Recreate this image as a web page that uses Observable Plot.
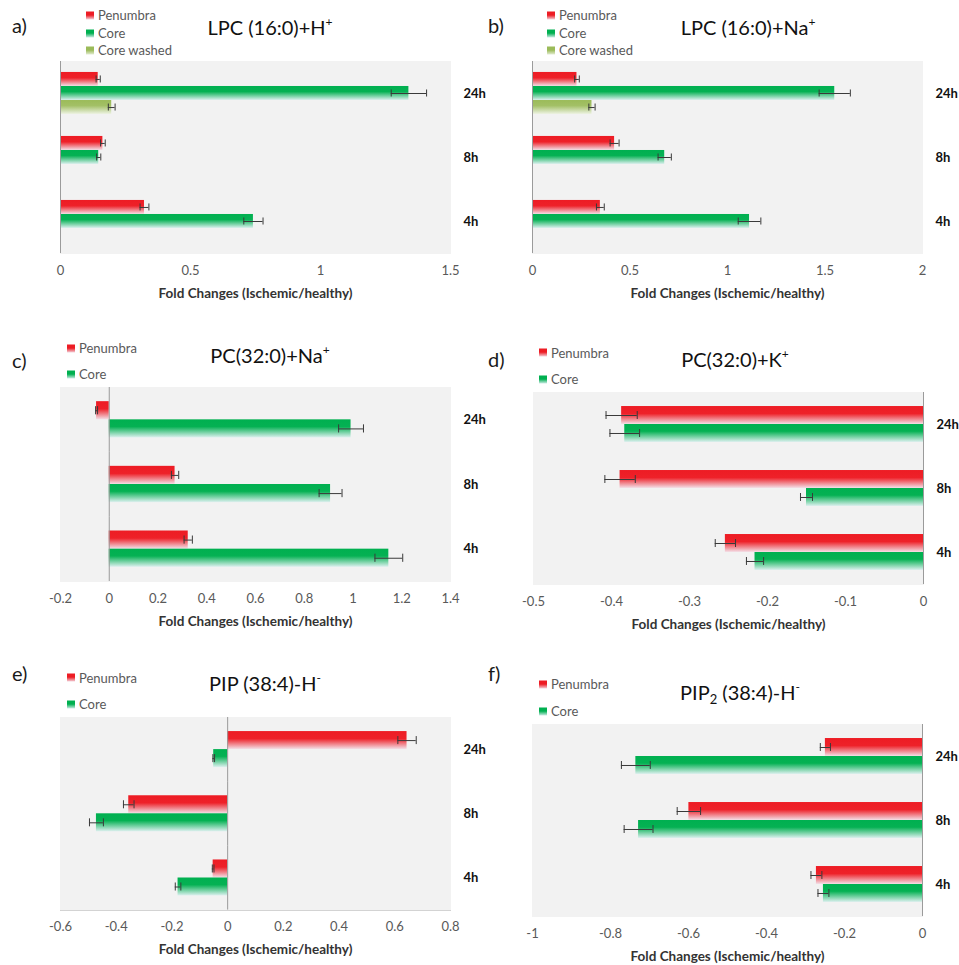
<!DOCTYPE html>
<html>
<head>
<meta charset="utf-8">
<script src="https://cdn.jsdelivr.net/npm/d3@7"></script>
<script src="https://cdn.jsdelivr.net/npm/@observablehq/plot@0.6"></script>
<style>
  body { margin: 0; background: #fff; font-family: Lato, "Open Sans", sans-serif; }
  #fig { position: relative; width: 959px; height: 965px; overflow: hidden; background: #fff; }
  .abs { position: absolute; line-height: 1; white-space: nowrap; }
  .letter { font-size: 20px; color: #1a1a1a; transform: translateY(-50%); }
  .title { font-size: 20px; color: #111; transform: translate(-50%, -50%); }
  .title sup { font-size: 0.6em; vertical-align: 0.75em; line-height: 0; }
  .title sub { font-size: 0.65em; vertical-align: -0.3em; line-height: 0; }
  .leg { font-size: 13px; color: #595959; display: flex; align-items: center; transform: translateY(-50%); }
  .sw { width: 8px; height: 8px; margin-right: 4px; flex: none; }
  .plotwrap { position: absolute; }
  .plotwrap svg { overflow: visible; }
  .plotwrap text.cat { font-weight: 700; fill: #111; font-size: 13px; }
  .plotwrap text.xlab { font-weight: 700; fill: #333; font-size: 13.5px; }
  .plotwrap path.domain { stroke: #a6a6a6; }
</style>
</head>
<body>
<svg width="0" height="0" style="position:absolute">
  <defs>
    <linearGradient id="gPenumbra" x1="0" y1="0" x2="0" y2="1">
      <stop offset="0" stop-color="#ed1c24"/>
      <stop offset="0.42" stop-color="#ee2129"/>
      <stop offset="1" stop-color="#f3e0e8"/>
    </linearGradient>
    <linearGradient id="gCore" x1="0" y1="0" x2="0" y2="1">
      <stop offset="0" stop-color="#00b050"/>
      <stop offset="0.40" stop-color="#05b153"/>
      <stop offset="1" stop-color="#ddf0ef"/>
    </linearGradient>
    <linearGradient id="gWashed" x1="0" y1="0" x2="0" y2="1">
      <stop offset="0" stop-color="#9bbb59"/>
      <stop offset="0.40" stop-color="#a3c066"/>
      <stop offset="1" stop-color="#eef3e4"/>
    </linearGradient>
  </defs>
</svg>
<div id="fig"></div>
<script>
// ---------------- DATA ----------------
const times = ["24h", "8h", "4h"];
const seriesNames = ["Penumbra", "Core", "Core washed"];
const xLabel = "Fold Changes (Ischemic/healthy)";

// a) LPC (16:0)+H+   values ordered as times (24h, 8h, 4h); null = no bar
const aPenumbra    = [0.145, 0.163, 0.323];
const aPenumbraErr = [0.008, 0.009, 0.017];
const aCore        = [1.340, 0.147, 0.742];
const aCoreErr     = [0.068, 0.008, 0.037];
const aWashed      = [0.197, null, null];
const aWashedErr   = [0.013, null, null];
const aTicks       = [0, 0.5, 1, 1.5];

// b) LPC (16:0)+Na+
const bPenumbra    = [0.228, 0.421, 0.348];
const bPenumbraErr = [0.012, 0.023, 0.020];
const bCore        = [1.550, 0.678, 1.113];
const bCoreErr     = [0.080, 0.034, 0.058];
const bWashed      = [0.305, null, null];
const bWashedErr   = [0.016, null, null];
const bTicks       = [0, 0.5, 1, 1.5, 2];

// c) PC(32:0)+Na+
const cPenumbra    = [-0.052, 0.270, 0.324];
const cPenumbraErr = [0.004, 0.015, 0.017];
const cCore        = [0.992, 0.908, 1.147];
const cCoreErr     = [0.051, 0.047, 0.057];
const cTicks       = [-0.2, 0, 0.2, 0.4, 0.6, 0.8, 1, 1.2, 1.4];

// d) PC(32:0)+K+
const dPenumbra    = [-0.387, -0.389, -0.254];
const dPenumbraErr = [0.020, 0.0195, 0.013];
const dCore        = [-0.383, -0.150, -0.216];
const dCoreErr     = [0.019, 0.0077, 0.011];
const dTicks       = [-0.5, -0.4, -0.3, -0.2, -0.1, 0];

// e) PIP (38:4)-H-
const ePenumbra    = [0.644, -0.355, -0.052];
const ePenumbraErr = [0.033, 0.019, 0.003];
const eCore        = [-0.050, -0.471, -0.178];
const eCoreErr     = [0.003, 0.025, 0.010];
const eTicks       = [-0.6, -0.4, -0.2, 0, 0.2, 0.4, 0.6, 0.8];

// f) PIP2 (38:4)-H-
const fPenumbra    = [-0.249, -0.599, -0.272];
const fPenumbraErr = [0.013, 0.030, 0.014];
const fCore        = [-0.735, -0.728, -0.254];
const fCoreErr     = [0.037, 0.037, 0.014];
const fTicks       = [-1, -0.8, -0.6, -0.4, -0.2, 0];

// ---------------- STYLE / LAYOUT ----------------
const fills = {"Penumbra": "url(#gPenumbra)", "Core": "url(#gCore)", "Core washed": "url(#gWashed)"};
const swatches = {
  "Penumbra": "linear-gradient(#ed1c24 45%, #f3d3dc)",
  "Core": "linear-gradient(#00b050 45%, #cdebe6)",
  "Core washed": "linear-gradient(#9bbb59 45%, #e3ecd2)"
};

function buildRows(list) {
  const rows = [];
  for (const [name, vals, errs] of list) {
    vals.forEach((v, i) => {
      if (v != null) rows.push({time: times[i], series: name, value: v, err: errs[i]});
    });
  }
  return rows;
}

const panels = [
  {letter: "a)", title: "LPC (16:0)+H<sup>+</sup>",
   series: [["Penumbra", aPenumbra, aPenumbraErr], ["Core", aCore, aCoreErr], ["Core washed", aWashed, aWashedErr]],
   ticks: aTicks, domain: [0, 1.5],
   L: {svgLeft: 0, plotTop: 61, plotH: 192, titleX: 270, titleY: 27, letterX: 12, letterY: 25, legX: 86, legYs: [15, 33, 50]}},
  {letter: "b)", title: "LPC (16:0)+Na<sup>+</sup>",
   series: [["Penumbra", bPenumbra, bPenumbraErr], ["Core", bCore, bCoreErr], ["Core washed", bWashed, bWashedErr]],
   ticks: bTicks, domain: [0, 2],
   L: {svgLeft: 472, plotTop: 61, plotH: 192, titleX: 748, titleY: 27, letterX: 488, letterY: 25, legX: 547, legYs: [15, 33, 50]}},
  {letter: "c)", title: "PC(32:0)+Na<sup>+</sup>",
   series: [["Penumbra", cPenumbra, cPenumbraErr], ["Core", cCore, cCoreErr]],
   ticks: cTicks, domain: [-0.2, 1.4],
   L: {svgLeft: 0, plotTop: 387, plotH: 194, titleX: 270, titleY: 355, letterX: 12, letterY: 360, legX: 67, legYs: [348, 374]}},
  {letter: "d)", title: "PC(32:0)+K<sup>+</sup>",
   series: [["Penumbra", dPenumbra, dPenumbraErr], ["Core", dCore, dCoreErr]],
   ticks: dTicks, domain: [-0.5, 0],
   L: {svgLeft: 472.5, plotTop: 391.5, plotH: 192, titleX: 735, titleY: 359, letterX: 488, letterY: 359, legX: 539, legYs: [352.7, 379.3]}},
  {letter: "e)", title: "PIP (38:4)-H<sup>-</sup>",
   series: [["Penumbra", ePenumbra, ePenumbraErr], ["Core", eCore, eCoreErr]],
   ticks: eTicks, domain: [-0.6, 0.8],
   L: {svgLeft: 0, plotTop: 716.7, plotH: 192.6, titleX: 265, titleY: 683, letterX: 12, letterY: 673, legX: 67, legYs: [677.7, 704.3]}},
  {letter: "f)", title: "PIP<sub>2</sub> (38:4)-H<sup>-</sup>",
   series: [["Penumbra", fPenumbra, fPenumbraErr], ["Core", fCore, fCoreErr]],
   ticks: fTicks, domain: [-1, 0],
   L: {svgLeft: 472, plotTop: 724, plotH: 192, titleX: 740, titleY: 691.7, letterX: 488, letterY: 673, legX: 539, legYs: [684.3, 711]}}
];

const fig = document.getElementById("fig");
function addDiv(cls, html, left, top) {
  const d = document.createElement("div");
  d.className = "abs " + cls;
  d.innerHTML = html;
  d.style.left = left + "px";
  d.style.top = top + "px";
  fig.appendChild(d);
  return d;
}

const MT = 6, MB = 50, ML = 60, PW = 390, MR = 30;

for (const p of panels) {
  const L = p.L;
  addDiv("letter", p.letter, L.letterX, L.letterY);
  addDiv("title", p.title, L.titleX, L.titleY);
  p.series.forEach(([name], i) => {
    addDiv("leg", `<span class="sw" style="background:${swatches[name]}"></span>${name}`, L.legX, L.legYs[i]);
  });

  const rows = buildRows(p.series);
  const names = p.series.map(s => s[0]);
  const capInset = names.length === 3 ? 3.5 : 5;

  const marks = [
    Plot.frame({fill: "#f2f2f2", stroke: "#f2f2f2", strokeWidth: 1})
  ];
  for (const name of names) {
    marks.push(Plot.barX(rows, {filter: d => d.series === name, x: "value", y: "series", fill: fills[name]}));
  }
  marks.push(
    Plot.ruleX([0], {stroke: "#9b9b9b", strokeWidth: 1}),
    Plot.ruleY(rows, {y: "series", x1: d => d.value - d.err, x2: d => d.value + d.err, stroke: "#3a3a3a", strokeWidth: 1}),
    Plot.tickX(rows, {x: d => d.value - d.err, y: "series", insetTop: capInset, insetBottom: capInset, stroke: "#3a3a3a", strokeWidth: 1}),
    Plot.tickX(rows, {x: d => d.value + d.err, y: "series", insetTop: capInset, insetBottom: capInset, stroke: "#3a3a3a", strokeWidth: 1})
  );

  const chart = Plot.plot({
    width: ML + PW + MR,
    height: MT + L.plotH + MB,
    marginLeft: ML, marginRight: MR, marginTop: MT, marginBottom: MB,
    style: {background: "transparent", fontFamily: "Lato, 'Open Sans', sans-serif", fontSize: "13px", color: "#595959", overflow: "visible"},
    facet: {data: rows, y: "time"},
    fy: {domain: times, padding: 0, axis: "right", label: null, tickSize: 0, tickPadding: 13, round: false},
    x: {domain: p.domain, ticks: p.ticks, tickFormat: d => String(d), tickSize: 0, tickPadding: 12,
        line: true, label: xLabel, labelAnchor: "center", labelOffset: 44},
    y: {domain: names, axis: null, paddingInner: 0, paddingOuter: 0.78, round: false},
    marks
  });

  // style axis texts: bold time labels and bold x-axis title (without arrow)
  d3.select(chart).selectAll("text").each(function() {
    const t = this.textContent.trim();
    if (times.includes(t)) {
      this.setAttribute("class", "cat");
    } else if (t.startsWith("Fold")) {
      this.textContent = xLabel;
      this.setAttribute("class", "xlab");
    }
  });

  const wrap = document.createElement("div");
  wrap.className = "plotwrap";
  wrap.style.left = L.svgLeft + "px";
  wrap.style.top = (L.plotTop - MT) + "px";
  wrap.appendChild(chart);
  fig.appendChild(wrap);
}
</script>
</body>
</html>
